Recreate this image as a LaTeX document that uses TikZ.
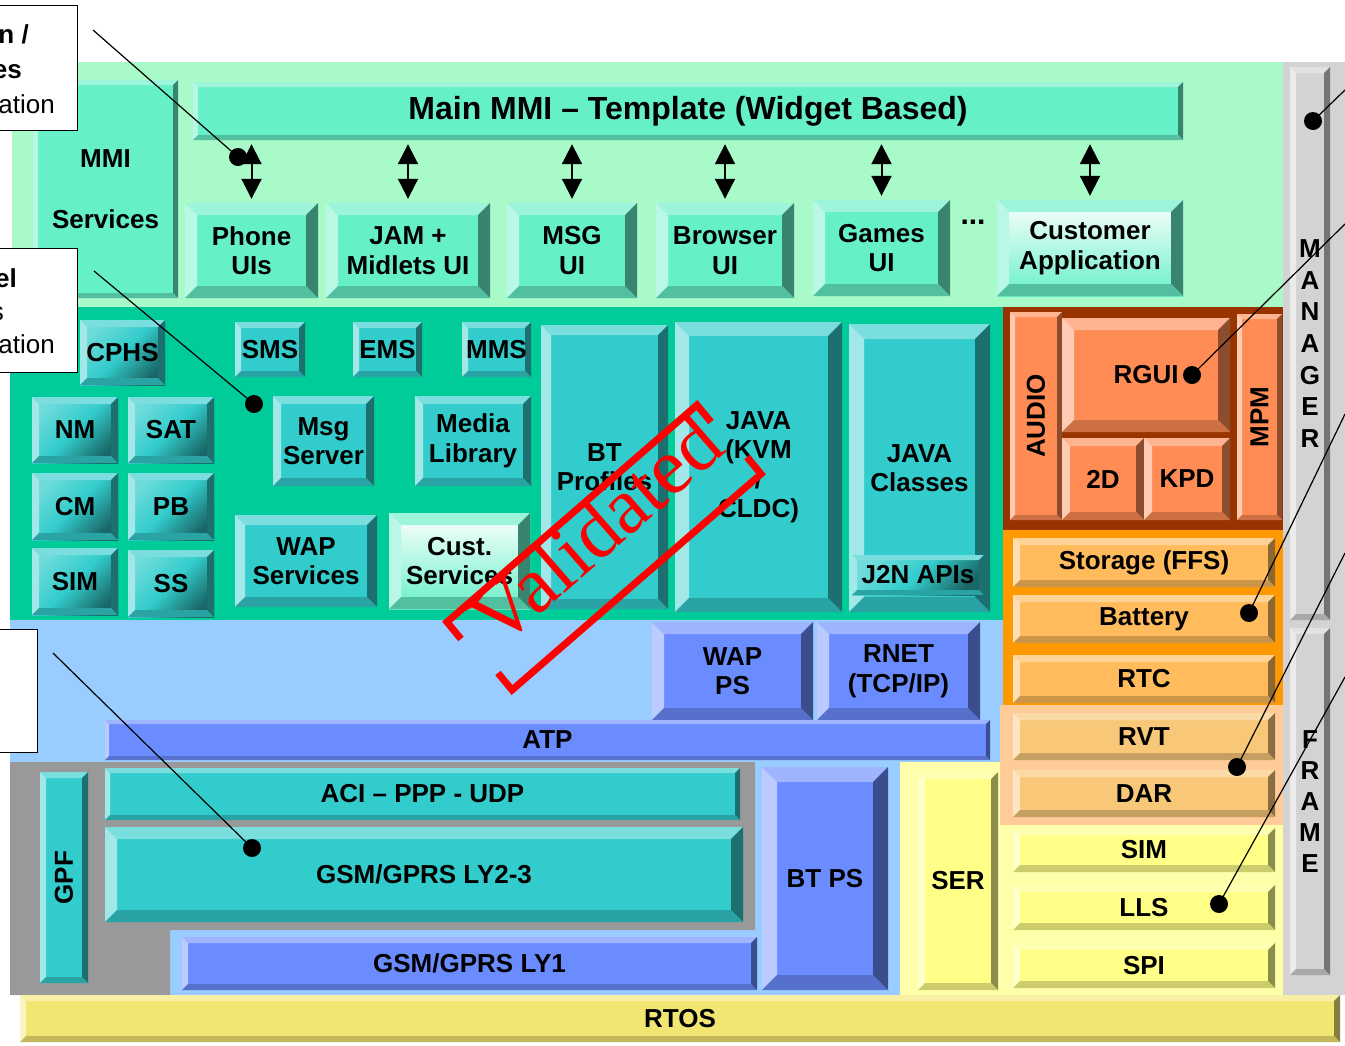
\documentclass[tikz,border=0pt]{standalone}
\usepackage{fontspec}
\setmainfont{Liberation Sans}
\newfontfamily\stampfont{Liberation Serif}
\usetikzlibrary{arrows.meta}

\definecolor{mmibg}{RGB}{168,250,200}
\definecolor{mmibox}{RGB}{102,240,200}
\definecolor{svcbg}{RGB}{0,204,153}
\definecolor{svcbox}{RGB}{51,204,204}
\definecolor{drvframe}{RGB}{153,51,0}
\definecolor{drvbox}{RGB}{255,140,85}
\definecolor{ffsbg}{RGB}{255,153,0}
\definecolor{ffsbox}{RGB}{255,187,92}
\definecolor{rvtbg}{RGB}{255,204,153}
\definecolor{rvtbox}{RGB}{248,200,120}
\definecolor{llsbg}{RGB}{255,255,170}
\definecolor{llsbox}{RGB}{255,255,136}
\definecolor{psbg}{RGB}{153,204,255}
\definecolor{psbox}{RGB}{107,140,255}
\definecolor{l1bg}{RGB}{153,153,153}
\definecolor{mgrbg}{RGB}{211,211,211}
\definecolor{rtosbox}{RGB}{242,230,114}

% raised box: face colour, bevel depth
\tikzset{
  bev/.style 2 args={fill=#1, inner sep=0pt, align=center,
    path picture={
      \fill[#1!65!white] (path picture bounding box.north west)
        -- (path picture bounding box.north east)
        -- ([xshift=-#2,yshift=-#2]path picture bounding box.north east)
        -- ([xshift=#2,yshift=-#2]path picture bounding box.north west) -- cycle;
      \fill[#1!45!white] (path picture bounding box.north west)
        -- ([xshift=#2,yshift=-#2]path picture bounding box.north west)
        -- ([xshift=#2,yshift=#2]path picture bounding box.south west)
        -- (path picture bounding box.south west) -- cycle;
      \fill[#1!55!black] (path picture bounding box.north east)
        -- (path picture bounding box.south east)
        -- ([xshift=-#2,yshift=#2]path picture bounding box.south east)
        -- ([xshift=-#2,yshift=-#2]path picture bounding box.north east) -- cycle;
      \fill[#1!80!black] (path picture bounding box.south west)
        -- ([xshift=#2,yshift=#2]path picture bounding box.south west)
        -- ([xshift=-#2,yshift=#2]path picture bounding box.south east)
        -- (path picture bounding box.south east) -- cycle;
    }},
  % box from corner (x1,y1) to corner (x2,y2)
  span/.style n args={4}{at={({(#1+#3)/2},{(#2+#4)/2})},
    minimum width={(#3-#1)*1pt}, minimum height={(#4-#2)*1pt}},
}

\begin{document}
\begin{tikzpicture}[
  x=1pt,y=-1pt,
  font=\fontsize{26}{29.5}\selectfont\bfseries,
  mmi/.style={bev={mmibox}{#1}}, mmi/.default=12pt,
  custbox/.style={bev={mmibox}{#1}, top color=white, bottom color=mmibox},
  custbox/.default=12pt,
  svc/.style={bev={svcbox}{#1}}, svc/.default=8pt,
  svcdim/.style={bev={svcbox}{#1}, top color=svcbox!70!white,
                 bottom color=svcbox!50!black, middle color=svcbox,
                 shading angle=45},
  svcdim/.default=7pt,
  drv/.style={bev={drvbox}{#1}}, drv/.default=8pt,
  ffs/.style={bev={ffsbox}{#1}}, ffs/.default=7pt,
  rvt/.style={bev={rvtbox}{#1}}, rvt/.default=7pt,
  lls/.style={bev={llsbox}{#1}}, lls/.default=7pt,
  ps/.style={bev={psbox}{#1}}, ps/.default=12pt,
  mgr/.style={bev={mgrbg}{#1}}, mgr/.default=6pt,
  rtos/.style={bev={rtosbox}{#1}}, rtos/.default=6pt,
  updown/.style={arrows={Triangle[length=20pt,width=20pt]-Triangle[length=20pt,width=20pt]},
                 line width=2pt, shorten >=4pt, shorten <=4pt},
  stamp/.style={red, line width=7pt},
  bullet/.style={circle, fill=black, inner sep=0pt, minimum size=18pt},
  leader/.style={line width=1.2pt},
  note/.style={draw, fill=white, line width=1pt, inner sep=0pt},
  frag/.style={anchor=base east, inner sep=0pt}
]
\useasboundingbox (0,0) rectangle (1345,1045);
\clip (0,0) rectangle (1345,1045);

% layer backgrounds
\fill[mmibg] (12,62) rectangle (1283,307);
\fill[svcbg] (10,307) rectangle (1003,620);
\fill[psbg] (10,620) rectangle (1003,762);
\fill[psbg] (10,762) rectangle (900,995);
\fill[l1bg] (10,762) -- (755,762) -- (755,930) -- (170,930) -- (170,995) -- (10,995) -- cycle;
\fill[drvframe] (1003,307) rectangle (1283,530);
\fill[ffsbg] (1003,530) rectangle (1283,705);
\fill[llsbg] (900,762) rectangle (1283,995);
\fill[rvtbg] (1000,705) rectangle (1283,825);
\fill[mgrbg] (1283,62) rectangle (1345,995);

% MMI
\node[mmi=5pt, span={33}{80}{178}{298}] (mmisvc) {MMI\\[32pt]Services};
\node[mmi=5pt, span={193}{82}{1183}{140}, font=\fontsize{32}{36}\selectfont\bfseries]
  (mainmmi) {Main MMI – Template (Widget Based)};
\node[mmi, span={185}{203}{318}{298}] (phone) {Phone\\UIs};
\node[mmi, span={326}{203}{490}{298}] (jam) {JAM +\\Midlets UI};
\node[mmi, span={507}{203}{637}{298}] (msg) {MSG\\UI};
\node[mmi, span={656}{203}{794}{298}] (browser) {Browser\\UI};
\node[mmi, span={813}{200}{950}{296}] (games) {Games\\UI};
\node[font=\fontsize{30}{30}\selectfont\bfseries] (more) at (973,222) {...};
\node[custbox, span={997}{200}{1183}{296}] (custapp) {Customer\\Application};
\foreach \b in {phone,jam,msg,browser,games,custapp}
  \draw[updown] (\b.north) -- (\b.north |- mainmmi.south);

% services
\node[svcdim, span={80}{320}{165}{385}] (cphs) {CPHS};
\node[svc=6pt, span={235}{322}{305}{377}] (sms) {SMS};
\node[svc=6pt, span={353}{322}{422}{377}] (ems) {EMS};
\node[svc=6pt, span={462}{322}{531}{377}] (mms) {MMS};
\node[svcdim, span={32}{397}{118}{463}] (nm) {NM};
\node[svcdim, span={128}{397}{214}{463}] (sat) {SAT};
\node[svcdim, span={32}{473}{118}{540}] (cm) {CM};
\node[svcdim, span={128}{473}{214}{540}] (pb) {PB};
\node[svcdim, span={32}{548}{118}{615}] (sim) {SIM};
\node[svcdim, span={128}{550}{214}{617}] (ss) {SS};
\node[svc, span={273}{396}{374}{486}] (msgsrv) {Msg\\Server};
\node[svc, span={415}{396}{531}{486}] (media) {Media\\Library};
\node[svc=10pt, span={235}{515}{377}{607}] (wapsvc) {WAP\\Services};
\node[custbox, span={389}{513}{530}{609}] (custsvc) {Cust.\\Services};
\node[svc=10pt, span={541}{325}{668}{609}] (btprof) {BT\\Profiles};
\node[svc=14pt, span={675}{322}{842}{612}] (java) {JAVA\\(KVM\\/\\CLDC)};
\node[svc=15pt, span={849}{324}{990}{612}] (javacls) {JAVA\\Classes};
\node[svcdim=5pt, span={852}{555}{984}{595}] (j2n) {J2N APIs};

% drivers
\node[drv=5pt, span={1010}{312}{1062}{520}] (audio) {\rotatebox{90}{AUDIO}};
\node[drv=12pt, span={1062}{318}{1230}{432}] (rgui) {RGUI};
\node[drv, span={1062}{438}{1144}{520}] (twod) {2D};
\node[drv, span={1144}{438}{1230}{520}] (kpd) {KPD};
\node[drv=5pt, span={1237}{314}{1282}{520}] (mpm) {\rotatebox{90}{MPM}};
\node[ffs, span={1013}{538}{1275}{587}] (ffs) {Storage (FFS)};
\node[ffs, span={1013}{595}{1275}{643}] (battery) {Battery};
\node[ffs, span={1013}{655}{1275}{703}] (rtc) {RTC};
\node[rvt, span={1013}{713}{1275}{760}] (rvt) {RVT};
\node[rvt, span={1013}{770}{1275}{817}] (dar) {DAR};
\node[lls, span={918}{772}{998}{990}] (ser) {SER};
\node[lls, span={1013}{828}{1275}{872}] (simdrv) {SIM};
\node[lls, span={1013}{885}{1275}{930}] (lls) {LLS};
\node[lls, span={1013}{943}{1275}{988}] (spi) {SPI};

% protocol stack
\node[ps, span={652}{622}{813}{720}] (wapps) {WAP\\PS};
\node[ps, span={817}{622}{980}{720}] (rnet) {RNET\\(TCP/IP)};
\node[ps=4pt, span={105}{720}{990}{760}] (atp) {ATP};
\node[svc=6pt, span={40}{772}{88}{983}] (gpf) {\rotatebox{90}{GPF}};
\node[svc=5pt, span={105}{768}{740}{820}] (aci) {ACI – PPP - UDP};
\node[svc=12pt, span={105}{827}{743}{922}] (ly23) {GSM/GPRS LY2-3};
\node[ps=15pt, span={762}{767}{888}{990}] (btps) {BT PS};
\node[ps=6pt, span={182}{937}{757}{990}] (ly1) {GSM/GPRS LY1};

% frame manager + rtos
\node[mgr, span={1290}{67}{1330}{620}, font=\fontsize{26}{31.7}\selectfont\bfseries]
  (manager) {M\\A\\N\\A\\G\\E\\R};
\node[mgr, span={1290}{628}{1330}{975}, font=\fontsize{26}{31}\selectfont\bfseries]
  (frame) {F\\R\\A\\M\\E};
\node[rtos, span={20}{995}{1340}{1042}] (rtos) {RTOS};

% stamp
\draw[stamp] (461,639) -- (447,622) -- (697,405) -- (711,422);
\draw[stamp] (498,673) -- (512,690) -- (761,474) -- (747,457);
\node[red, rotate=41, font=\stampfont\fontsize{80}{80}\selectfont] (valid) at (596,530) {Validated};

% callouts
\node[note, span={-5}{5}{77}{130}] (note1) {};
\node[frag] (n1a) at (29,43) {n /};
\node[frag] (n1b) at (22,78) {es};
\node[frag, font=\fontsize{26}{29.5}\selectfont] (n1c) at (55,113) {ation};
\node[note, span={-5}{248}{77}{372}] (note2) {};
\node[frag] (n2a) at (17,287) {el};
\node[frag, font=\fontsize{26}{29.5}\selectfont] (n2b) at (4,320) {s};
\node[frag, font=\fontsize{26}{29.5}\selectfont] (n2c) at (55,353) {ation};
\node[note, span={-5}{629}{37}{752}] (note3) {};

\node[bullet] (d1) at (238,157) {};
\node[bullet] (d2) at (254,404) {};
\node[bullet] (d3) at (252,848) {};
\node[bullet] (d4) at (1313,121) {};
\node[bullet] (d5) at (1192,375) {};
\node[bullet] (d6) at (1249,613) {};
\node[bullet] (d7) at (1237,767) {};
\node[bullet] (d8) at (1219,904) {};
\coordinate (c1) at (93,30);
\coordinate (c2) at (94,271);
\coordinate (c3) at (53,653);
\coordinate (c4) at (1345,90);
\coordinate (c5) at (1345,224);
\coordinate (c6) at (1345,414);
\coordinate (c7) at (1345,553);
\coordinate (c8) at (1345,677);
\foreach \i in {1,...,8}
  \draw[leader] (c\i) -- (d\i.center);
\end{tikzpicture}
\end{document}
